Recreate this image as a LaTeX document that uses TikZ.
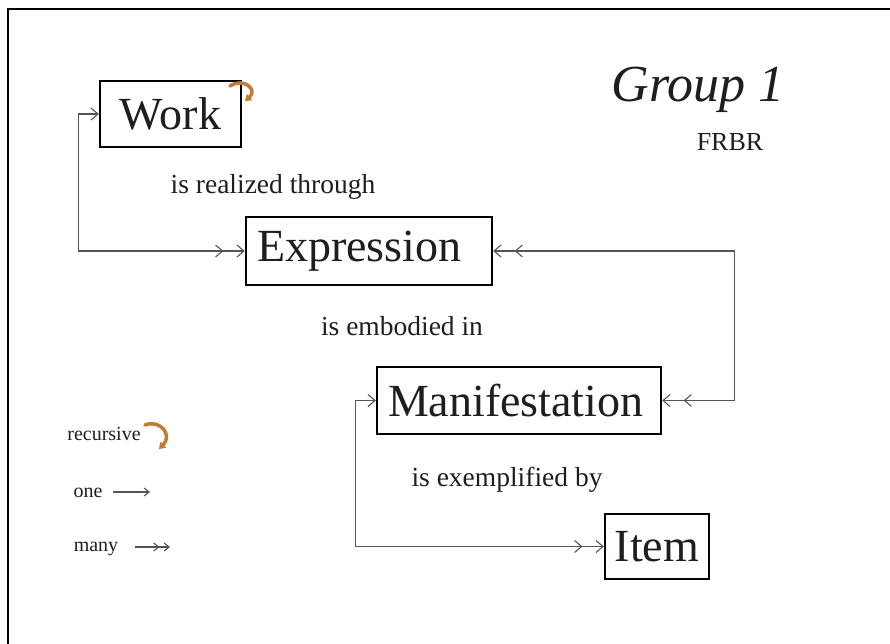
\documentclass[tikz,border=0pt]{standalone}
\usepackage{fontspec}
\setmainfont{Liberation Serif}
\usetikzlibrary{arrows.meta}

\definecolor{linegray}{HTML}{555555}
\definecolor{inkblack}{HTML}{1E1E1E}
\definecolor{curlorange}{HTML}{C27A35}

\tikzset{
  onetip/.tip={Straight Barb[length=7pt,width=12pt]},
  manytip/.tip={Straight Barb[length=7pt,width=12pt,sep=13pt] Straight Barb[length=7pt,width=12pt]},
  smallone/.tip={Straight Barb[length=5pt,width=8pt]},
  smallmany/.tip={Straight Barb[length=5pt,width=8pt,sep=4pt] Straight Barb[length=5pt,width=8pt]},
  entity/.style={draw=black, line width=2.4pt, inner sep=0pt, text=inkblack,
    font=\fontsize{46}{50}\selectfont},
  leftentity/.style={entity, inner xsep=11pt, align=left, text width=#1},
  rel/.style={draw=linegray, line width=1.1pt},
  rellabel/.style={text=inkblack, inner sep=0pt, font=\fontsize{27.5}{30}\selectfont},
  legendlabel/.style={text=inkblack, inner sep=0pt, font=\fontsize{20}{22}\selectfont},
  curl/.style={draw=curlorange, line width=3.5pt, line cap=round,
    -{Triangle[length=6pt,width=8pt]}},
}

\begin{document}
\begin{tikzpicture}[x=1pt, y=-1pt]
\useasboundingbox (0,0) rectangle (890,644);
\fill[white] (0,0) rectangle (890,644);

% page frame (top and left edges)
\draw[black, line width=2.5pt] (892,9) -- (8,9) -- (8,646);

% entities
\node[entity, minimum width=141pt, minimum height=66pt] (work)  at (170.5,114) {Work};
\node[leftentity=224pt, minimum height=68pt] (expr)  at (369,251)   {Expression};
\node[leftentity=262pt, minimum height=67pt] (manif) at (519,400.5) {Manifestation};
\node[entity, minimum width=104pt, minimum height=65pt] (item)  at (657,546.5) {Item};

% title
\node[text=inkblack, inner sep=0pt, font=\fontsize{52}{56}\selectfont\itshape] (title) at (698,90) {Group 1};
\node[text=inkblack, inner sep=0pt, font=\fontsize{26}{28}\selectfont] (frbr) at (730,142) {FRBR};

% relationship labels
\node[rellabel] (lreal)  at (273,187) {is realized through};
\node[rellabel] (lemb)   at (402,326) {is embodied in};
\node[rellabel] (lexemp) at (507,480) {is exemplified by};

% relationships
\draw[rel, onetip-manytip] (work.west) -- ++(-20,0) |- (expr.west);
\draw[rel, manytip-manytip] (expr.east) -- ++(241,0) |- (manif.east);
\draw[rel, onetip-manytip] (manif.west) -- ++(-20,0) |- (item.west);

% recursive relationship on Work
\coordinate (curlA) at (230,86);
\coordinate (curlB) at (245,101);
\draw[curl] (curlA) .. controls (244,77) and (258,90) .. (curlB);

% legend
\node[legendlabel] (lgrec)  at (104,434) {recursive};
\node[legendlabel] (lgone)  at (88,493)  {one};
\node[legendlabel] (lgmany) at (96,549)  {many};

\coordinate (recA) at (145,425);
\coordinate (recB) at (159,449);
\draw[curl] (recA) .. controls (160,419) and (173,435) .. (recB);

\coordinate (oneA) at (113,492);
\coordinate (oneB) at (150,492);
\draw[rel, -smallone] (oneA) -- (oneB);

\coordinate (manyA) at (135,547);
\coordinate (manyB) at (170,547);
\draw[rel, -smallmany] (manyA) -- (manyB);
\end{tikzpicture}
\end{document}
